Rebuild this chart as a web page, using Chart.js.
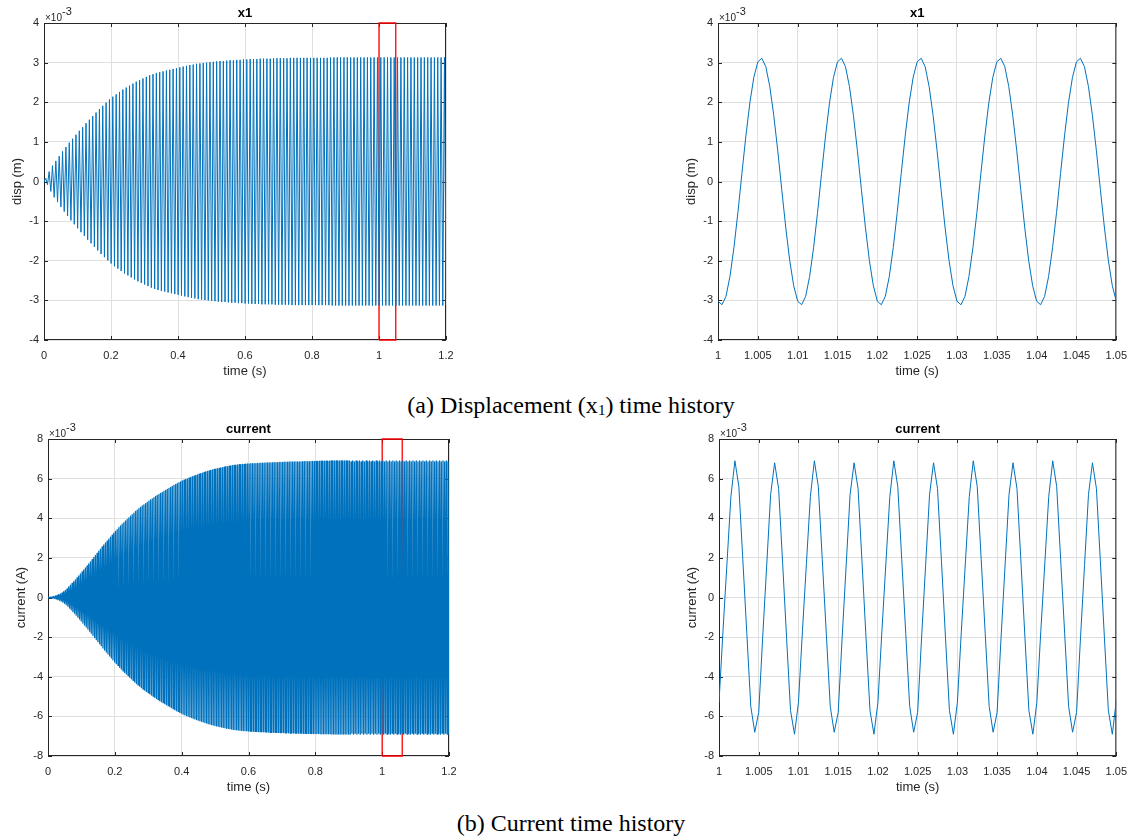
<!DOCTYPE html>
<html>
<head>
<meta charset="utf-8">
<title>x1 and current time history</title>
<script src="https://cdn.jsdelivr.net/npm/chart.js@4.4.1/dist/chart.umd.min.js"></script>
<style>
  body { margin: 0; background: #fff; }
  #page { position: relative; width: 1136px; height: 839px; overflow: hidden; background: #fff; }
  #page canvas { position: absolute; }
  .caption {
    position: absolute; left: 3px; width: 1136px; text-align: center;
    font-family: "Liberation Serif", "Times New Roman", serif; font-size: 24px; line-height: 24px; color: #000;
  }
  .caption sub { font-size: 15px; line-height: 0; vertical-align: -2px; }
</style>
</head>
<body>
<div id="page">
  <div class="caption" style="top:393px">(a) Displacement (x<sub>1</sub>) time history</div>
  <div class="caption" style="top:811px">(b) Current time history</div>
</div>
<script>
const FONT = '"Liberation Sans", Arial, Helvetica, sans-serif';
const INK = '#262626';
const BLUE = '#0072BD';

// ---- axes ----
const fullTimeTicks = [0, 0.2, 0.4, 0.6, 0.8, 1, 1.2];
const fullTimeLabels = ['0', '0.2', '0.4', '0.6', '0.8', '1', '1.2'];
const zoomTimeTicks = [1, 1.005, 1.01, 1.015, 1.02, 1.025, 1.03, 1.035, 1.04, 1.045, 1.05];
const zoomTimeLabels = ['1', '1.005', '1.01', '1.015', '1.02', '1.025', '1.03', '1.035', '1.04', '1.045', '1.05'];
const x1Ticks = [-4, -3, -2, -1, 0, 1, 2, 3, 4];
const currentTicks = [-8, -6, -4, -2, 0, 2, 4, 6, 8];

// ---- x1, full record: peak amplitude of each 0.01 s cycle (x 1e-3 m) ----
const x1Period = 0.01;
const x1PeakAt = 0.0054;   // time of the max inside a cycle
const x1TroughAt = 0.0104; // time of the following min
const x1Amp = [
  0.08, 0.25, 0.40, 0.52, 0.64, 0.76, 0.87, 0.98, 1.08, 1.18,
  1.28, 1.37, 1.47, 1.56, 1.65, 1.74, 1.83, 1.91, 1.99, 2.07,
  2.14, 2.20, 2.26, 2.32, 2.37, 2.42, 2.47, 2.52, 2.56, 2.60,
  2.64, 2.68, 2.71, 2.74, 2.76, 2.78, 2.80, 2.82, 2.84, 2.86,
  2.88, 2.90, 2.92, 2.94, 2.95, 2.97, 2.98, 2.99, 3.00, 3.01,
  3.02, 3.03, 3.04, 3.04, 3.05, 3.06, 3.06, 3.07, 3.07, 3.08,
  3.08, 3.09, 3.09, 3.09, 3.10, 3.10, 3.10, 3.10, 3.11, 3.11,
  3.11, 3.11, 3.11, 3.12, 3.12, 3.12, 3.12, 3.12, 3.12, 3.12,
  3.12, 3.12, 3.12, 3.12, 3.12, 3.13, 3.13, 3.13, 3.13, 3.13,
  3.13, 3.13, 3.13, 3.13, 3.13, 3.13, 3.13, 3.13, 3.13, 3.13,
  3.13, 3.13, 3.13, 3.13, 3.13, 3.13, 3.13, 3.13, 3.13, 3.13,
  3.13, 3.13, 3.13, 3.13, 3.13, 3.13, 3.13, 3.13, 3.13, 3.13
];

// ---- current, full record: peak amplitude of each 0.005 s cycle (x 1e-3 A) ----
const curPeriod = 0.005;
const curPeakAt = 0.002;
const curTroughAt = 0.0045;
const curAmp = [
  0.01, 0.02, 0.03, 0.05, 0.08, 0.11, 0.14, 0.18, 0.23, 0.29, 0.36, 0.44, 0.53, 0.62, 0.71, 0.80, 0.89, 0.99, 1.09, 1.19,
  1.29, 1.39, 1.49, 1.59, 1.70, 1.80, 1.91, 2.02, 2.13, 2.23, 2.34, 2.44, 2.55, 2.65, 2.75, 2.85, 2.95, 3.05, 3.15, 3.25,
  3.34, 3.43, 3.52, 3.61, 3.70, 3.78, 3.86, 3.94, 4.02, 4.10, 4.18, 4.26, 4.34, 4.41, 4.48, 4.55, 4.62, 4.68, 4.74, 4.80,
  4.86, 4.92, 4.98, 5.04, 5.10, 5.15, 5.21, 5.26, 5.31, 5.36, 5.41, 5.46, 5.51, 5.56, 5.61, 5.66, 5.71, 5.75, 5.80, 5.84,
  5.89, 5.92, 5.96, 5.99, 6.03, 6.06, 6.10, 6.13, 6.16, 6.19, 6.22, 6.25, 6.28, 6.31, 6.34, 6.37, 6.39, 6.42, 6.44, 6.46,
  6.48, 6.50, 6.52, 6.54, 6.56, 6.58, 6.60, 6.61, 6.63, 6.64, 6.66, 6.67, 6.68, 6.69, 6.70, 6.71, 6.72, 6.72, 6.73, 6.74,
  6.74, 6.75, 6.75, 6.76, 6.76, 6.77, 6.77, 6.78, 6.78, 6.78, 6.79, 6.79, 6.80, 6.80, 6.80, 6.81, 6.81, 6.81, 6.82, 6.82,
  6.82, 6.83, 6.83, 6.83, 6.84, 6.84, 6.84, 6.84, 6.85, 6.85, 6.85, 6.85, 6.86, 6.86, 6.86, 6.86, 6.86, 6.87, 6.87, 6.87,
  6.87, 6.87, 6.88, 6.88, 6.88, 6.88, 6.88, 6.88, 6.88, 6.89, 6.89, 6.89, 6.89, 6.89, 6.89, 6.89, 6.89, 6.89, 6.89, 6.89,
  6.90, 6.85, 6.90, 6.85, 6.90, 6.85, 6.90, 6.85, 6.90, 6.85, 6.90, 6.85, 6.90, 6.85, 6.90, 6.85, 6.90, 6.85, 6.90, 6.85,
  6.90, 6.85, 6.90, 6.85, 6.90, 6.85, 6.90, 6.85, 6.90, 6.85, 6.90, 6.85, 6.90, 6.85, 6.90, 6.85, 6.90, 6.85, 6.90, 6.85,
  6.90, 6.85, 6.90, 6.85, 6.90, 6.85, 6.90, 6.85, 6.90, 6.85, 6.90, 6.85, 6.90, 6.85, 6.90, 6.85, 6.90, 6.85, 6.90, 6.85
];

// ---- zoomed windows, sampled every 0.5 ms from t = 1 s ----
const zoomStart = 1;
const zoomStep = 0.0005;
const x1Zoom = [
  -3.02, -3.11, -2.90, -2.40, -1.67, -0.78, 0.20, 1.15, 1.99, 2.63, 3.02, 3.11, 2.90, 2.40, 1.67, 0.78, -0.20, -1.15, -1.99, -2.63,
  -3.02, -3.11, -2.90, -2.40, -1.67, -0.78, 0.20, 1.15, 1.99, 2.63, 3.02, 3.11, 2.90, 2.40, 1.67, 0.78, -0.20, -1.15, -1.99, -2.63,
  -3.02, -3.11, -2.90, -2.40, -1.67, -0.78, 0.20, 1.15, 1.99, 2.63, 3.02, 3.11, 2.90, 2.40, 1.67, 0.78, -0.20, -1.15, -1.99, -2.63,
  -3.02, -3.11, -2.90, -2.40, -1.67, -0.78, 0.20, 1.15, 1.99, 2.63, 3.02, 3.11, 2.90, 2.40, 1.67, 0.78, -0.20, -1.15, -1.99, -2.63,
  -3.02, -3.11, -2.90, -2.40, -1.67, -0.78, 0.20, 1.15, 1.99, 2.63, 3.02, 3.11, 2.90, 2.40, 1.67, 0.78, -0.20, -1.15, -1.99, -2.63,
  -3.02
];
const currentZoom = [
  -5.3, -1.7, 1.7, 5.1, 6.9, 5.6, 1.9, -1.8, -5.5, -6.8,  -5.8, -2.0, 1.6, 5.2, 6.8, 5.5, 1.8, -2.0, -5.7, -6.9,
  -5.3, -1.7, 1.7, 5.1, 6.9, 5.6, 1.9, -1.8, -5.5, -6.8,  -5.8, -2.0, 1.6, 5.2, 6.8, 5.5, 1.8, -2.0, -5.7, -6.9,
  -5.3, -1.7, 1.7, 5.1, 6.9, 5.6, 1.9, -1.8, -5.5, -6.8,  -5.8, -2.0, 1.6, 5.2, 6.8, 5.5, 1.8, -2.0, -5.7, -6.9,
  -5.3, -1.7, 1.7, 5.1, 6.9, 5.6, 1.9, -1.8, -5.5, -6.8,  -5.8, -2.0, 1.6, 5.2, 6.8, 5.5, 1.8, -2.0, -5.7, -6.9,
  -5.3, -1.7, 1.7, 5.1, 6.9, 5.6, 1.9, -1.8, -5.5, -6.8,  -5.8, -2.0, 1.6, 5.2, 6.8, 5.5, 1.8, -2.0, -5.7, -6.9,
  -5.2
];

// red boxes marking the zoomed window on the full records
const x1ZoomBox = [1, 1.05];
const currentZoomBox = [1, 1.06];

function peakPoints(amps, period, peakAt, troughAt) {
  const pts = [{ x: 0, y: 0 }];
  amps.forEach((a, k) => {
    pts.push({ x: k * period + peakAt, y: a });
    pts.push({ x: k * period + troughAt, y: -a });
  });
  return pts;
}

function sampledPoints(values) {
  return values.map((v, k) => ({ x: zoomStart + k * zoomStep, y: v }));
}

function boxPoints(range, ticks) {
  const lo = ticks[0], hi = ticks[ticks.length - 1];
  return [
    { x: range[0], y: lo }, { x: range[0], y: hi }, { x: range[1], y: hi },
    { x: range[1], y: lo }, { x: range[0], y: lo }
  ];
}

// MATLAB-like frame: box, inward ticks, title and exponent
const matlabAxes = {
  id: 'matlabAxes',
  beforeDatasetsDraw(chart, args, opts) {
    const { ctx, chartArea: a, scales: { x, y } } = chart;
    const t = 4;
    ctx.save();
    ctx.strokeStyle = INK;
    ctx.lineWidth = 1;
    ctx.beginPath();
    x.ticks.forEach(tk => {
      const px = Math.round(x.getPixelForValue(tk.value)) + 0.5;
      ctx.moveTo(px, a.bottom); ctx.lineTo(px, a.bottom - t);
      ctx.moveTo(px, a.top); ctx.lineTo(px, a.top + t);
    });
    y.ticks.forEach(tk => {
      const py = Math.round(y.getPixelForValue(tk.value)) + 0.5;
      ctx.moveTo(a.left, py); ctx.lineTo(a.left + t, py);
      ctx.moveTo(a.right, py); ctx.lineTo(a.right - t, py);
    });
    ctx.stroke();
    ctx.strokeRect(a.left + 0.5, a.top + 0.5, a.right - a.left - 1, a.bottom - a.top - 1);

    ctx.fillStyle = '#000';
    ctx.textAlign = 'center';
    ctx.textBaseline = 'alphabetic';
    ctx.font = 'bold 13px ' + FONT;
    ctx.fillText(opts.title, (a.left + a.right) / 2, a.top - 6);

    ctx.fillStyle = INK;
    ctx.textAlign = 'left';
    ctx.font = '10px ' + FONT;
    ctx.fillText('\u00d710', a.left + 1, a.top - 2);
    const w = ctx.measureText('\u00d710').width;
    ctx.font = '11px ' + FONT;
    ctx.fillText('-3', a.left + 1 + w, a.top - 8);
    ctx.restore();
  }
};

function makeChart(spec) {
  const page = document.getElementById('page');
  const cv = document.createElement('canvas');
  cv.width = spec.canvas.w;
  cv.height = spec.canvas.h;
  cv.style.left = spec.canvas.left + 'px';
  cv.style.top = spec.canvas.top + 'px';
  page.appendChild(cv);

  const area = spec.area;
  const yW = area.l - spec.canvas.left;
  const xH = spec.canvas.top + spec.canvas.h - area.b;
  const tickFont = { family: FONT, size: 11 };
  const labelFont = { family: FONT, size: 13 };

  const datasets = [{
    data: spec.points,
    borderColor: BLUE,
    borderWidth: spec.lineWidth,
    borderJoinStyle: 'round',
    pointRadius: 0,
    tension: 0
  }];
  if (spec.box) {
    datasets.push({
      data: spec.box,
      borderColor: '#ff0000',
      borderWidth: 1.3,
      pointRadius: 0,
      tension: 0,
      clip: 3
    });
  }

  return new Chart(cv, {
    type: 'line',
    data: { datasets },
    options: {
      responsive: false,
      animation: false,
      events: [],
      parsing: false,
      normalized: true,
      layout: {
        padding: {
          left: 0,
          top: area.t - spec.canvas.top,
          right: spec.canvas.left + spec.canvas.w - area.r,
          bottom: 0
        }
      },
      plugins: {
        legend: { display: false },
        tooltip: { enabled: false },
        matlabAxes: { title: spec.title }
      },
      scales: {
        x: {
          type: 'linear',
          min: spec.xTicks[0],
          max: spec.xTicks[spec.xTicks.length - 1],
          afterBuildTicks: s => { s.ticks = spec.xTicks.map(v => ({ value: v })); },
          afterFit: s => { s.height = xH; },
          ticks: {
            autoSkip: false, maxRotation: 0, padding: 9, color: INK, font: tickFont,
            callback: (v, i) => spec.xLabels[i]
          },
          grid: { color: '#dfdfdf', drawTicks: false },
          border: { display: false },
          title: {
            display: true, text: 'time (s)', color: INK, font: labelFont,
            padding: { top: 0, bottom: 5.5 }
          }
        },
        y: {
          type: 'linear',
          min: spec.yTicks[0],
          max: spec.yTicks[spec.yTicks.length - 1],
          afterBuildTicks: s => { s.ticks = spec.yTicks.map(v => ({ value: v })); },
          afterFit: s => { s.width = yW; },
          ticks: { autoSkip: false, padding: 5, color: INK, font: tickFont, callback: v => String(v) },
          grid: { color: '#dfdfdf', drawTicks: false },
          border: { display: false },
          title: {
            display: true, text: spec.yLabel, color: INK, font: labelFont,
            padding: { top: yW - 27 - 7.8, bottom: 0 }
          }
        }
      }
    },
    plugins: [matlabAxes]
  });
}

makeChart({
  canvas: { left: 0, top: 0, w: 470, h: 385 },
  area: { l: 44, t: 23, r: 446, b: 340 },
  title: 'x1', yLabel: 'disp (m)',
  xTicks: fullTimeTicks, xLabels: fullTimeLabels, yTicks: x1Ticks,
  points: peakPoints(x1Amp, x1Period, x1PeakAt, x1TroughAt),
  box: boxPoints(x1ZoomBox, x1Ticks),
  lineWidth: 1
});

makeChart({
  canvas: { left: 670, top: 0, w: 466, h: 385 },
  area: { l: 718, t: 23, r: 1119, b: 340 },
  title: 'x1', yLabel: 'disp (m)',
  xTicks: zoomTimeTicks, xLabels: zoomTimeLabels, yTicks: x1Ticks,
  points: sampledPoints(x1Zoom),
  lineWidth: 1
});

makeChart({
  canvas: { left: 0, top: 418, w: 470, h: 383 },
  area: { l: 48, t: 439, r: 449, b: 756 },
  title: 'current', yLabel: 'current (A)',
  xTicks: fullTimeTicks, xLabels: fullTimeLabels, yTicks: currentTicks,
  points: peakPoints(curAmp, curPeriod, curPeakAt, curTroughAt),
  box: boxPoints(currentZoomBox, currentTicks),
  lineWidth: 1.3
});

makeChart({
  canvas: { left: 670, top: 418, w: 466, h: 383 },
  area: { l: 719, t: 439, r: 1120, b: 756 },
  title: 'current', yLabel: 'current (A)',
  xTicks: zoomTimeTicks, xLabels: zoomTimeLabels, yTicks: currentTicks,
  points: sampledPoints(currentZoom),
  lineWidth: 1
});
</script>
</body>
</html>
